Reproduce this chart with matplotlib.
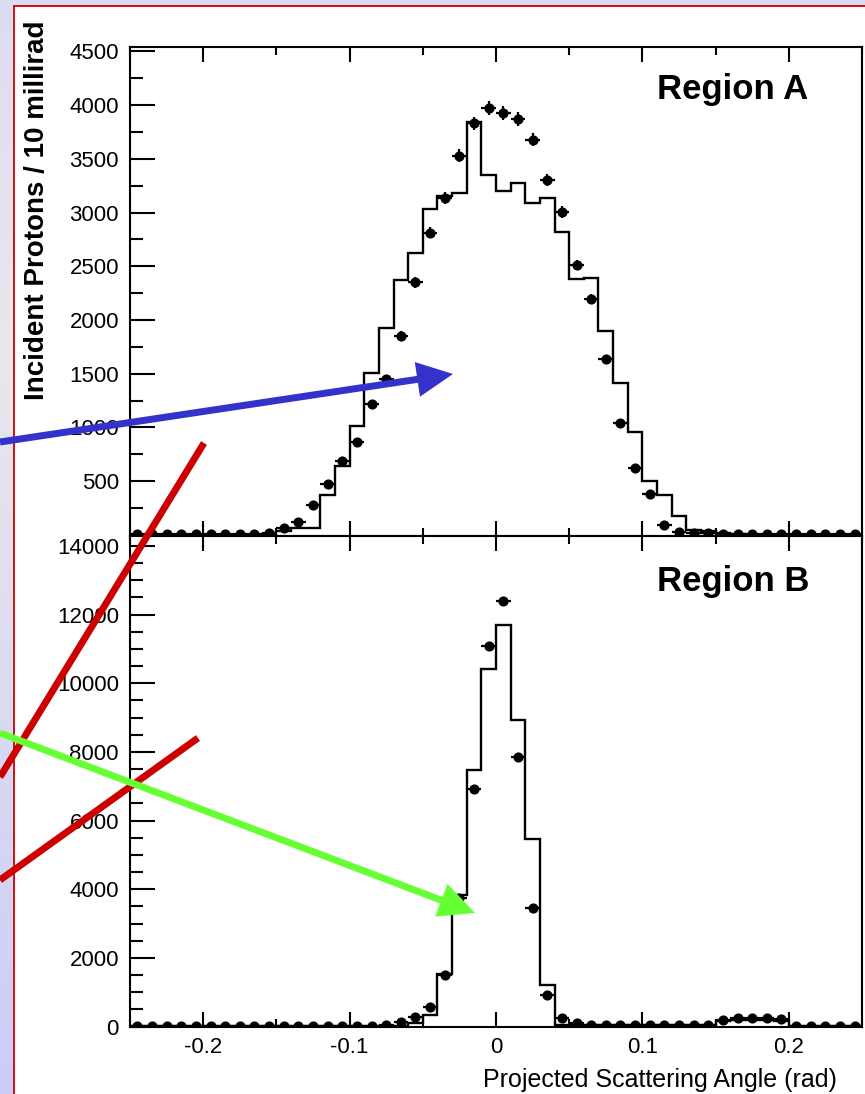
import numpy as np
import matplotlib.pyplot as plt
from matplotlib.patches import Polygon
from matplotlib.ticker import MultipleLocator

plt.rcParams['font.family'] = ['Liberation Sans', 'DejaVu Sans']

W, H = 865, 1094  # output size in pixels (dpi 100)

# 10 mrad bins from -0.25 to 0.25 rad
edges = np.round(np.linspace(-0.25, 0.25, 51), 3)
centers = 0.5 * (edges[:-1] + edges[1:])

# Region A: simulation histogram and measured points (counts per bin)
sim_a = [2, 2, 2, 2, 2, 2, 2, 2, 3, 10,
         35, 60, 65, 371, 641, 1016, 1504, 1923, 2372, 2621,
         3033, 3154, 3185, 3846, 3350, 3204, 3278, 3087, 3133, 2817,
         2379, 2395, 1900, 1411, 960, 501, 375, 180, 50, 35,
         15, 8, 3, 3, 3, 3, 3, 3, 3, 3]
data_a = [5, 5, 5, 5, 5, 5, 5, 5, 8, 20,
          60, 122, 277, 473, 690, 867, 1215, 1448, 1854, 2350,
          2813, 3133, 3527, 3831, 3971, 3924, 3869, 3676, 3303, 3008,
          2512, 2196, 1637, 1038, 619, 380, 90, 30, 20, 15,
          12, 10, 5, 5, 5, 5, 5, 5, 5, 5]

# Region B
sim_b = [5, 5, 5, 5, 5, 5, 5, 5, 5, 5,
         5, 5, 5, 5, 5, 5, 5, 5, 30, 100,
         341, 1534, 3834, 7473, 10404, 11694, 8928, 5455, 1213, 60,
         45, 45, 45, 45, 45, 45, 45, 45, 45, 45,
         170, 190, 190, 190, 170, 10, 10, 10, 10, 10]
data_b = [5, 5, 5, 5, 5, 5, 5, 5, 5, 5,
          5, 5, 5, 5, 5, 5, 5, 40, 146, 291,
          582, 1505, 3750, 6929, 11082, 12401, 7860, 3465, 923, 253,
          120, 40, 40, 40, 40, 40, 40, 40, 40, 40,
          200, 260, 260, 260, 230, 10, 10, 10, 10, 10]

x_ticks = [-0.2, -0.1, 0, 0.1, 0.2]
x_ticklabels = ['-0.2', '-0.1', '0', '0.1', '0.2']
ya_ticks = list(range(500, 4501, 500))
yb_ticks = list(range(0, 14001, 2000))


def px_rect(left, top, right, bottom):
    return [left / W, 1 - bottom / H, (right - left) / W, (bottom - top) / H]


fig = plt.figure(figsize=(W / 100, H / 100), dpi=100)

# slide background: lavender strips on the left and top, red border line
bg = fig.add_axes([0, 0, 1, 1], zorder=-5)
bg.set_xlim(0, W)
bg.set_ylim(H, 0)
bg.axis('off')
rows = np.arange(H)
stops_y = [0, 350, H]
grad = np.stack([np.interp(rows, stops_y, [220, 232, 204]),
                 np.interp(rows, stops_y, [220, 232, 204]),
                 np.interp(rows, stops_y, [242, 236, 248])], axis=-1) / 255.0
grad = np.repeat(grad[:, None, :], 2, axis=1)
bg.imshow(grad, extent=[0, W, H, 0], aspect='auto')
bg.add_patch(plt.Rectangle((14, 6), W, H, color='white'))
bg.plot([14, 14], [6, H], color='#cc0000', lw=1.3)
bg.plot([14, W], [6, 6], color='#cc0000', lw=1.3)

axA = fig.add_axes(px_rect(130, 47, 862, 536))
axB = fig.add_axes(px_rect(130, 536, 862, 1027))

for ax, sim, data, ylim in [(axA, sim_a, data_a, (-10, 4540)),
                            (axB, sim_b, data_b, (-10, 14290))]:
    ax.stairs(sim, edges, color='black', lw=1.7, zorder=2)
    data = np.asarray(data, dtype=float)
    ax.errorbar(centers, data, xerr=0.005, yerr=np.sqrt(data), fmt='o',
                ms=6.3, color='black', elinewidth=1.6, capsize=0, zorder=3)
    ax.set_xlim(-0.25, 0.25)
    ax.set_ylim(*ylim)
    ax.set_xticks(x_ticks)
    ax.xaxis.set_minor_locator(MultipleLocator(0.05))
    for s in ax.spines.values():
        s.set_linewidth(1.5)
    ax.tick_params(axis='both', which='both', direction='in', top=True,
                   bottom=True, left=True, right=False, width=1.5,
                   labelsize=16)
    ax.tick_params(axis='y', which='major', length=18, pad=8)
    ax.tick_params(axis='y', which='minor', length=9)
    ax.tick_params(axis='x', which='major', length=11, pad=7)
    ax.tick_params(axis='x', which='minor', length=6)

axA.set_yticks(ya_ticks)
axA.yaxis.set_minor_locator(MultipleLocator(250))
axA.tick_params(labelbottom=False)

axB.set_yticks(yb_ticks)
axB.yaxis.set_minor_locator(MultipleLocator(500))
axB.set_xticklabels(x_ticklabels)

fig.text(733 / W, 1 - 99.5 / H, 'Region A', ha='center', va='baseline',
         fontsize=25, fontweight='bold')
fig.text(733 / W, 1 - 591 / H, 'Region B', ha='center', va='baseline',
         fontsize=25, fontweight='bold')
fig.text(37 / W, 1 - 210 / H, 'Incident Protons / 10 millirad', rotation=90,
         ha='center', va='center', fontsize=20, fontweight='bold')
fig.text(837 / W, 1 - 1087 / H, 'Projected Scattering Angle (rad)',
         ha='right', va='baseline', fontsize=18)

# annotation overlay in pixel coordinates
ov = fig.add_axes([0, 0, 1, 1], zorder=20)
ov.set_xlim(0, W)
ov.set_ylim(H, 0)
ov.axis('off')
ov.patch.set_alpha(0)


def arrow(start, tip, color, head_len=36, head_w=35, lw=5):
    start = np.asarray(start, float)
    tip = np.asarray(tip, float)
    u = (tip - start) / np.hypot(*(tip - start))
    n = np.array([-u[1], u[0]])
    base = tip - head_len * u
    ov.plot([start[0], base[0] + 2 * u[0]], [start[1], base[1] + 2 * u[1]],
            color=color, lw=lw, solid_capstyle='butt')
    ov.add_patch(Polygon([tip, base + n * head_w / 2, base - n * head_w / 2],
                         closed=True, color=color, lw=0))


ov.plot([204, 0], [443, 777], color='#cc0000', lw=5, solid_capstyle='butt')
ov.plot([198, 0], [738, 880], color='#cc0000', lw=5, solid_capstyle='butt')
arrow((0, 442), (453, 374), '#3333cc')
arrow((0, 733), (475, 913), '#66ff33')

fig.savefig('out.png', dpi=100)
